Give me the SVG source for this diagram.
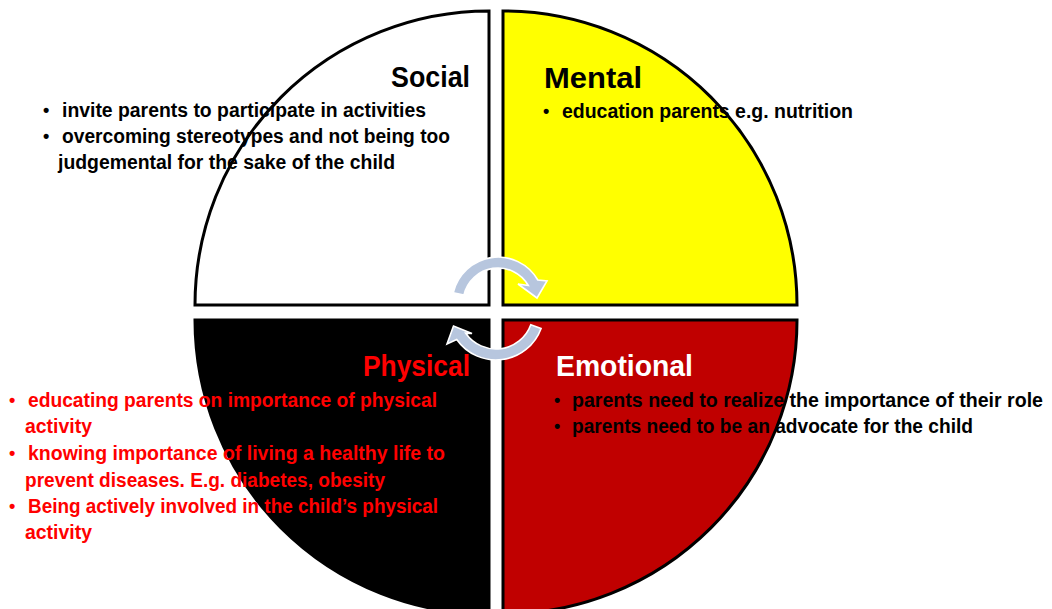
<svg xmlns="http://www.w3.org/2000/svg" width="1052" height="609" viewBox="0 0 1052 609">
  <style>
    .q { stroke: #000; stroke-width: 3; stroke-linejoin: miter; }
    .t { font-family: "Liberation Sans", Arial, sans-serif; font-weight: bold; font-size: 20px; fill: #000; }
    .b { font-family: "Liberation Sans", Arial, sans-serif; font-weight: bold; font-size: 18px; fill: #000; }
    .h { font-family: "Liberation Sans", Arial, sans-serif; font-weight: bold; font-size: 29px; fill: #000; }
    .red { fill: #FF0000; }
    .white { fill: #FFFFFF; }
    .arrow { fill: #B7C6DE; stroke: #FFFFFF; stroke-width: 1.6; stroke-linejoin: miter; }
  </style>
  <rect x="0" y="0" width="1052" height="609" fill="#FFFFFF"/>

  <!-- Social: top-left quarter -->
  <g id="social">
    <path class="q" fill="#FFFFFF" d="M489,305 L195,305 A294,294 0 0 1 489,11 Z"/>
    <text class="h" x="391" y="87" textLength="79" lengthAdjust="spacingAndGlyphs">Social</text>
    <text class="b" x="43" y="116">•</text>
    <text class="t" x="62" y="117" textLength="364" lengthAdjust="spacingAndGlyphs">invite parents to participate in activities</text>
    <text class="b" x="43" y="142">•</text>
    <text class="t" x="62" y="143" textLength="388" lengthAdjust="spacingAndGlyphs">overcoming stereotypes and not being too</text>
    <text class="t" x="58" y="169" textLength="337" lengthAdjust="spacingAndGlyphs">judgemental for the sake of the child</text>
  </g>

  <!-- Mental: top-right quarter -->
  <g id="mental">
    <path class="q" fill="#FFFF00" d="M503,305 L503,11 A294,294 0 0 1 797,305 Z"/>
    <text class="h" x="544" y="88" textLength="98" lengthAdjust="spacingAndGlyphs">Mental</text>
    <text class="b" x="543" y="117">•</text>
    <text class="t" x="562" y="118" textLength="291" lengthAdjust="spacingAndGlyphs">education parents e.g. nutrition</text>
  </g>

  <!-- Physical: bottom-left quarter -->
  <g id="physical">
    <path class="q" fill="#000000" d="M489,320 L489,614 A294,294 0 0 1 195,320 Z"/>
    <text class="h red" x="363" y="376" textLength="107" lengthAdjust="spacingAndGlyphs">Physical</text>
    <text class="b red" x="9" y="406">•</text>
    <text class="t red" x="28" y="407" textLength="409" lengthAdjust="spacingAndGlyphs">educating parents on importance of physical</text>
    <text class="t red" x="25" y="433" textLength="67" lengthAdjust="spacingAndGlyphs">activity</text>
    <text class="b red" x="9" y="459">•</text>
    <text class="t red" x="28" y="460" textLength="417" lengthAdjust="spacingAndGlyphs">knowing importance of living a healthy life to</text>
    <text class="t red" x="25" y="487" textLength="360" lengthAdjust="spacingAndGlyphs">prevent diseases. E.g. diabetes, obesity</text>
    <text class="b red" x="9" y="512">•</text>
    <text class="t red" x="28" y="513" textLength="410" lengthAdjust="spacingAndGlyphs">Being actively involved in the child’s physical</text>
    <text class="t red" x="25" y="539" textLength="67" lengthAdjust="spacingAndGlyphs">activity</text>
  </g>

  <!-- Emotional: bottom-right quarter -->
  <g id="emotional">
    <path class="q" fill="#C00000" d="M503,320 L797,320 A294,294 0 0 1 503,614 Z"/>
    <text class="h white" x="556" y="376" textLength="137" lengthAdjust="spacingAndGlyphs">Emotional</text>
    <text class="b" x="554" y="406">•</text>
    <text class="t" x="572" y="407" textLength="471" lengthAdjust="spacingAndGlyphs">parents need to realize the importance of their role</text>
    <text class="b" x="554" y="432">•</text>
    <text class="t" x="572" y="433" textLength="401" lengthAdjust="spacingAndGlyphs">parents need to be an advocate for the child</text>
  </g>

  <!-- Circular arrows in the centre -->
  <g id="connectors">
    <path class="arrow" d="M453.2,292.7 A46,46 0 0 1 537.8,280 L547,281 L537,298 L518,284 L528.3,285.5 A35,35 0 0 0 463.9,295.1 Z"/>
    <path class="arrow" d="M541.1,328.4 A48,48 0 0 1 456.7,339.5 L447,344 L453.5,326 L472,333.5 L465.7,333.2 A37,37 0 0 0 530.8,324.7 Z"/>
  </g>
</svg>
